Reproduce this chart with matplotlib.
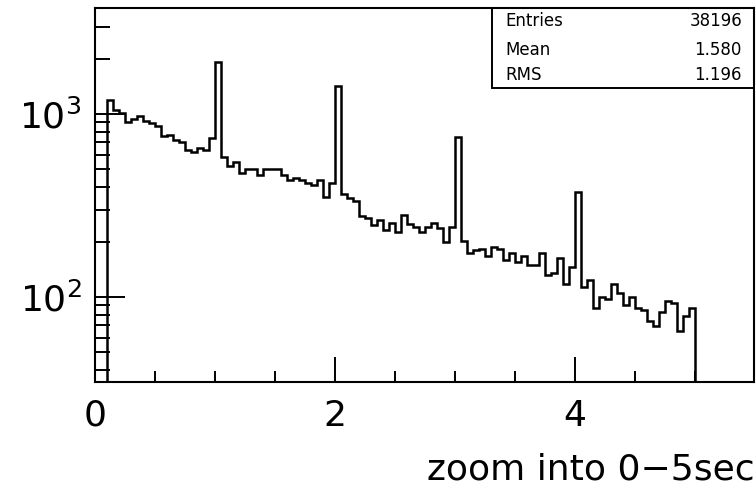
import numpy as np
import matplotlib.pyplot as plt
from matplotlib.patches import Rectangle
from matplotlib.ticker import LogLocator, NullFormatter, MultipleLocator

# histogram: 100 bins of 0.05 sec between 0 and 5 sec
x_lo, x_hi, n_bins = 0.0, 5.0, 100
counts = [0, 0,
          1193, 1052, 1017, 908, 935, 975, 916, 890, 860, 758, 768, 721, 700, 636, 618, 649, 636, 737,
          1924,
          584, 520, 549, 474, 499, 499, 464, 499, 499, 499, 464, 436, 445, 436, 421, 409, 436, 353, 421,
          1422,
          367, 348, 333, 277, 269, 247, 264, 232, 253, 227, 279, 251, 241, 227, 241, 255, 238, 200, 241,
          749,
          201, 174, 180, 183, 167, 188, 184, 159, 173, 155, 167, 149, 149, 173, 132, 136, 163, 117, 145,
          375,
          114, 124, 87, 100, 98, 118, 105, 90, 100, 87, 85, 74, 69, 83, 95, 93, 65, 79, 87]

stat_names = ["Entries", "Mean", "RMS"]
stat_values = ["38196", "1.580", "1.196"]

x_label = "zoom into 0\u22125sec"

edges = np.linspace(x_lo, x_hi, n_bins + 1)

fig = plt.figure(figsize=(7.56, 4.97), dpi=100)
ax = fig.add_axes([0.1261, 0.2314, 0.998 - 0.1261, 0.9839 - 0.2314])

ax.stairs(counts, edges, color="black", lw=1.8)

ax.set_yscale("log")
ax.set_xlim(0, 5.5)
ax.set_ylim(34.3, 3796)

ax.xaxis.set_major_locator(MultipleLocator(2))
ax.xaxis.set_minor_locator(MultipleLocator(0.5))
ax.yaxis.set_major_locator(LogLocator(base=10))
ax.yaxis.set_minor_locator(LogLocator(base=10, subs=np.arange(2, 10)))
ax.yaxis.set_minor_formatter(NullFormatter())

ax.tick_params(which="both", direction="in", top=False, right=False, width=1.4)
ax.tick_params(axis="x", which="major", length=18, labelsize=26, pad=12)
ax.tick_params(axis="x", which="minor", length=8)
ax.tick_params(axis="y", which="major", length=21.6, labelsize=26, pad=10)
ax.tick_params(axis="y", which="minor", length=10.8)
for s in ax.spines.values():
    s.set_linewidth(1.5)

ax.set_xlabel(x_label, fontsize=26, loc="right", labelpad=14)

# stats box, top right
ax.add_patch(Rectangle((0.602, 0.786), 0.398, 0.214, transform=ax.transAxes,
                       fill=False, lw=1.4, color="black"))
for name, val, yy in zip(stat_names, stat_values, [0.964, 0.888, 0.821]):
    ax.text(0.6215, yy, name, transform=ax.transAxes, fontsize=12,
            va="center", ha="left")
    ax.text(0.981, yy, val, transform=ax.transAxes, fontsize=12,
            va="center", ha="right")

fig.savefig("out.png", dpi=100)
